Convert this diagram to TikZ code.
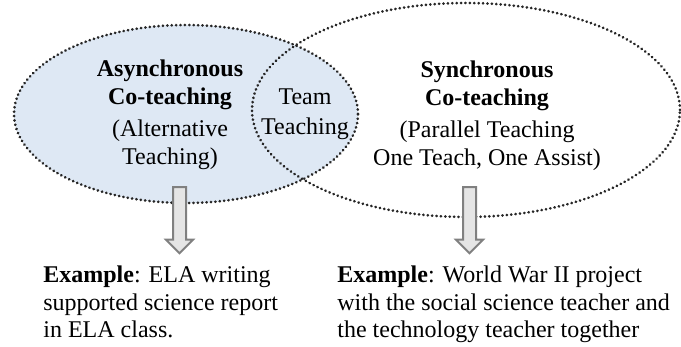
\documentclass[tikz,border=0pt]{standalone}
\usepackage{fontspec}
\setmainfont{Liberation Serif}
\usepackage{tikz}
\usetikzlibrary{shapes.geometric, shapes.arrows}

\definecolor{lightblue}{RGB}{222, 232, 244}

\begin{document}
\begin{tikzpicture}[x = 0.5pt, y = 0.5pt,
                        ring/.style = {ellipse, line width = 1.4pt, line cap = round,
                                       dash pattern = on 0.1pt off 2.1pt, draw = black!85},
                        words/.style = {inner sep = 0pt, align = center,
                                        font = \fontsize{12}{14}\selectfont},
                        note/.style = {inner sep = 0pt, align = left, anchor = north west,
                                       font = \fontsize{12}{13.75}\selectfont},
                        downarrow/.style = {single arrow, rotate = -90, draw = black!50, fill = black!10,
                                            line width = 1pt, inner xsep = 0pt, inner ysep = 2.75pt,
                                            minimum height = 33pt, minimum width = 12.5pt,
                                            single arrow head extend = 3.5pt}]
      \useasboundingbox (0, 0) rectangle (681, 347);
      % the two sets
      \node [ring, fill = lightblue, minimum width = 172pt, minimum height = 89pt] (asyn) at (186, 233){};
      \node [ring, minimum width = 214pt, minimum height = 107pt] (syn) at (466, 237){};
      % set labels
      \node [words] (asynlabel) at (170, 232.6)
            {\textbf{Asynchronous}\\\textbf{Co-teaching}\\[2pt](Alternative\\Teaching)};
      \node [words] (team) at (305, 232.6) {Team\\[1pt]Teaching};
      \node [words] (synlabel) at (487, 231)
            {\textbf{Synchronous}\\\textbf{Co-teaching}\\[2pt](Parallel Teaching\\One Teach, One Assist)};
      % arrows down to the examples
      \node [downarrow] (asynarrow) at (179.5, 130){};
      \node [downarrow] (synarrow) at (469.5, 130){};
      \node [note] (asynexample) at (43, 81.5)
            {\textbf{Example}: ELA writing\\supported science report\\in ELA class.};
      \node [note] (synexample) at (337, 81.5)
            {\textbf{Example}: World War II project\\with the social science teacher and\\the technology teacher together};
    \end{tikzpicture}
\end{document}
